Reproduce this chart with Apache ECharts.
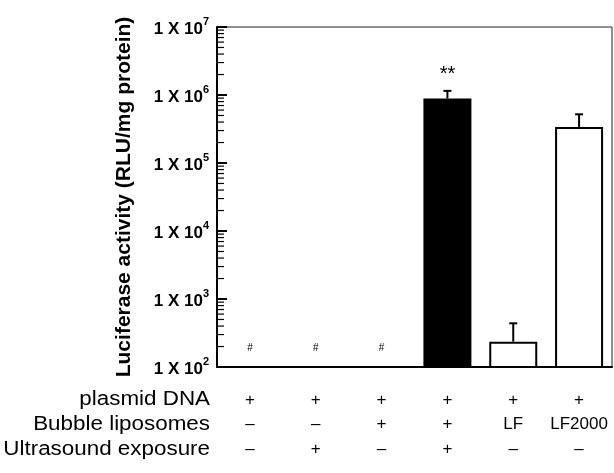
<!DOCTYPE html>
<html>
<head>
<meta charset="utf-8">
<script src="https://cdn.jsdelivr.net/npm/echarts@6/dist/echarts.min.js"></script>
<style>
  html, body { margin: 0; padding: 0; background: #fff; }
  #main { width: 614px; height: 473px; }
</style>
</head>
<body>
<div id="main"></div>
<script>
// conditions (one column per bar)
var groups = ['g1', 'g2', 'g3', 'g4', 'g5', 'g6']
var rowPlasmid = ['+', '+', '+', '+', '+', '+']
var rowBubble = ['\u2013', '\u2013', '+', '+', 'LF', 'LF2000']
var rowUltrasound = ['\u2013', '+', '\u2013', '+', '\u2013', '\u2013']
var rowNames = ['plasmid DNA', 'Bubble liposomes', 'Ultrasound exposure']

// luciferase activity (RLU/mg protein), first three under detection (#)
var means = [100, 100, 100, 890000, 236, 339000]
var errUpper = [null, null, null, 1150000, 439, 520000]
var marks = ['#', '#', '#', '**', '', '']
var barColors = ['#fff', '#fff', '#fff', '#000', '#fff', '#fff']

// y axis
var yMin = 100
var yMax = 10000000
var minorTicks = [
    200, 300, 400, 500, 600, 700, 800, 900,
    2000, 3000, 4000, 5000, 6000, 7000, 8000, 9000,
    20000, 30000, 40000, 50000, 60000, 70000, 80000, 90000,
    200000, 300000, 400000, 500000, 600000, 700000, 800000, 900000,
    2000000, 3000000, 4000000, 5000000, 6000000, 7000000, 8000000, 9000000
]

var font = '"Liberation Sans", Arial, Helvetica, sans-serif'

var barData = means.map(function (v, i) {
    var item = {
        value: v,
        itemStyle: { color: barColors[i] }
    }
    if (marks[i] === '#') {
        item.label = { show: true, formatter: '#', position: 'top', distance: 14, fontSize: 10, color: '#000', fontFamily: font }
        item.itemStyle.borderWidth = 0
    } else if (marks[i] === '**') {
        item.label = { show: true, formatter: '**', position: 'top', distance: 14, fontSize: 20, color: '#000', fontFamily: font }
    }
    return item
})

var errData = []
means.forEach(function (v, i) {
    if (errUpper[i] != null) errData.push([i, v, errUpper[i]])
})

// minor ticks sit on the first category, shifted left to the axis line
var tickData = minorTicks.map(function (t) { return [groups[0], t] })

var option = {
    backgroundColor: '#fff',
    animation: false,
    grid: {
        left: 217,
        right: 2,
        top: 27,
        bottom: 106,
        show: true,
        borderColor: '#222',
        borderWidth: 1,
        backgroundColor: 'transparent'
    },
    xAxis: {
        type: 'category',
        data: groups,
        axisLine: { lineStyle: { color: '#000', width: 2 } },
        axisTick: { show: false },
        axisLabel: {
            margin: 21,
            interval: 0,
            fontSize: 17,
            lineHeight: 24.5,
            color: '#000',
            fontFamily: font,
            formatter: function (v, i) {
                return [rowPlasmid[i], rowBubble[i], rowUltrasound[i]].join('\n')
            }
        }
    },
    yAxis: {
        type: 'log',
        logBase: 10,
        min: yMin,
        max: yMax,
        name: 'Luciferase activity (RLU/mg protein)',
        nameLocation: 'middle',
        nameGap: 82,
        nameTextStyle: { fontSize: 21, fontWeight: 'bold', color: '#000', fontFamily: font },
        axisLine: { show: true, lineStyle: { color: '#000', width: 2 } },
        axisTick: { show: true, inside: true, length: 10, lineStyle: { color: '#000', width: 2 } },
        splitLine: { show: false },
        axisLabel: {
            margin: 8,
            color: '#000',
            fontFamily: font,
            formatter: function (v) {
                var e = Math.round(Math.log10(v))
                return '{b|1 X 10}{s|' + e + '}'
            },
            rich: {
                b: { fontSize: 17, fontWeight: 'bold', color: '#000', fontFamily: font, lineHeight: 22, verticalAlign: 'bottom' },
                s: { fontSize: 11, fontWeight: 'bold', color: '#000', fontFamily: font, lineHeight: 22, verticalAlign: 'top', padding: [0, 0, 11, 0] }
            }
        }
    },
    graphic: rowNames.map(function (t, i) {
        return {
            type: 'text',
            x: 210,
            y: 399 + i * 25,
            scaleX: 1.12,
            style: { text: t, fill: '#000', font: '20px ' + font, align: 'right', verticalAlign: 'middle' }
        }
    }),
    series: [
        {
            type: 'bar',
            data: barData,
            barWidth: 48,
            itemStyle: { borderColor: '#000', borderWidth: 2 }
        },
        {
            type: 'custom',
            data: errData,
            encode: { x: 0, y: [1, 2] },
            z: 1,
            renderItem: function (params, api) {
                var lo = api.coord([api.value(0), api.value(1)])
                var hi = api.coord([api.value(0), api.value(2)])
                return {
                    type: 'group',
                    children: [
                        { type: 'line', shape: { x1: lo[0], y1: lo[1], x2: hi[0], y2: hi[1] }, style: { stroke: '#000', lineWidth: 2 } },
                        { type: 'line', shape: { x1: hi[0] - 4, y1: hi[1], x2: hi[0] + 4, y2: hi[1] }, style: { stroke: '#000', lineWidth: 2 } }
                    ]
                }
            }
        },
        {
            // minor log ticks on the y axis
            type: 'scatter',
            data: tickData,
            symbol: 'rect',
            symbolSize: [7, 1.2],
            symbolOffset: [-29.4, 0],
            itemStyle: { color: '#000', opacity: 1 },
            silent: true,
            z: 5
        }
    ]
}

var myChart = echarts.init(document.getElementById('main'))
myChart.setOption(option)
</script>
</body>
</html>
